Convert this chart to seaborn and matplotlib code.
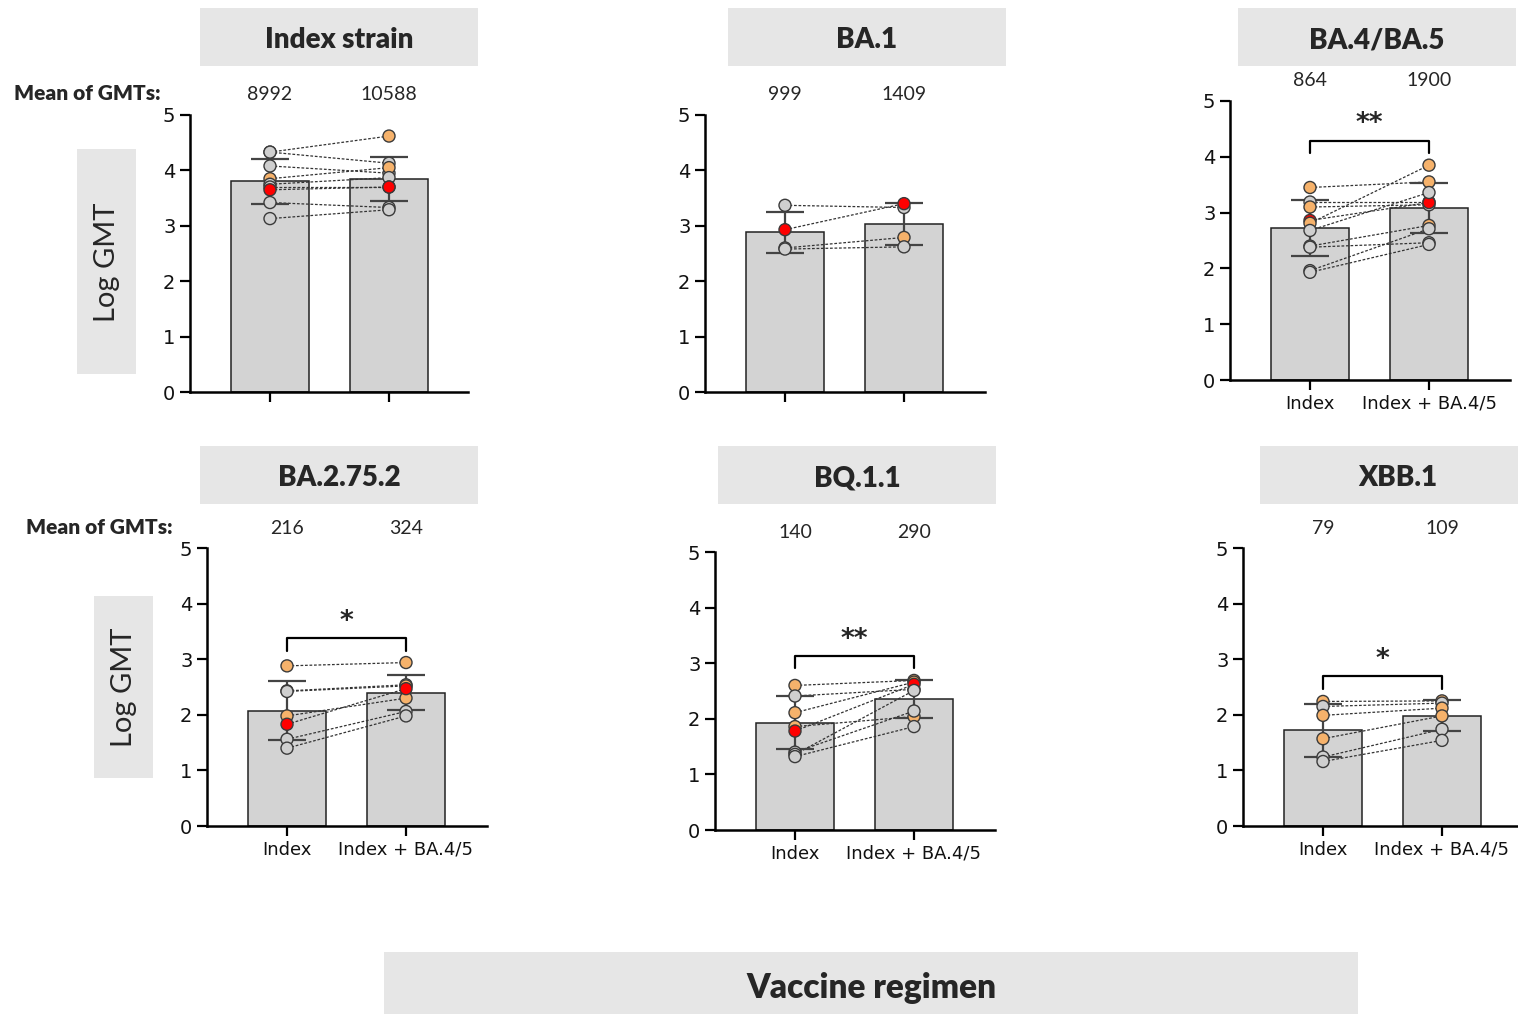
import matplotlib
matplotlib.use("Agg")
import matplotlib.pyplot as plt
import matplotlib.transforms as mtransforms
from matplotlib.patches import Rectangle
import seaborn as sns

# data
strains = ["Index strain", "BA.1", "BA.4/BA.5", "BA.2.75.2", "BQ.1.1", "XBB.1"]
regimens = ["Index", "Index + BA.4/5"]
gmt_means = [("8992", "10588"), ("999", "1409"), ("864", "1900"),
             ("216", "324"), ("140", "290"), ("79", "109")]
bar_means = [(3.80, 3.85), (2.88, 3.03), (2.72, 3.08), (2.07, 2.40), (1.93, 2.36), (1.72, 1.98)]
bar_sd = [(0.40, 0.40), (0.37, 0.38), (0.50, 0.45), (0.53, 0.32), (0.48, 0.34), (0.47, 0.28)]
sig_marks = ["", "", "**", "*", "**", "*"]
bracket_y = [None, None, (4.06, 4.29), (3.14, 3.38), (2.92, 3.13), (2.47, 2.69)]

pre_vals = [
    [4.33, 4.33, 4.08, 3.85, 3.75, 3.70, 3.65, 3.42, 3.13],
    [3.37, 2.93, 2.60, 2.58],
    [3.45, 3.19, 3.10, 2.86, 2.81, 2.68, 2.40, 2.38, 1.96, 1.93],
    [2.88, 2.43, 2.42, 1.98, 1.83, 1.56, 1.40],
    [2.60, 2.41, 2.11, 1.86, 1.78, 1.40, 1.36, 1.32],
    [2.24, 2.15, 1.99, 1.57, 1.24, 1.16],
]
post_vals = [
    [4.62, 4.13, 3.95, 4.05, 3.87, 3.70, 3.70, 3.33, 3.29],
    [3.33, 3.40, 2.79, 2.62],
    [3.55, 3.19, 3.14, 3.18, 3.85, 3.36, 2.77, 2.46, 2.71, 2.43],
    [2.94, 2.54, 2.52, 2.30, 2.47, 2.06, 1.98],
    [2.69, 2.53, 2.66, 2.04, 2.62, 2.14, 2.51, 1.86],
    [2.25, 2.21, 2.12, 1.98, 1.74, 1.54],
]
pre_cols = ["gggoggrgg", "grgg", "ogorogggg" + "g", "oogorgg", "ogoorggg", "ogoogg"]
post_cols = ["oggoggrgg", "grog", "oggrogoggg", "ogoorgg", "ogoorggg", "ogoogg"]

colmap = {"g": "#cfcfcf", "o": "#f6b26b", "r": "#ff0000"}

W, H = 1518, 1014
# panel boxes in pixels: left spine, right end, y of 0, y of 5
panel_px = [(190, 468, 392, 115), (705, 985, 392, 115), (1230, 1510, 380, 101),
            (207, 487, 826, 548), (715, 995, 830, 552), (1243, 1518, 826, 548)]
title_px = [(200, 478, 8, 66), (728, 1006, 8, 66), (1238, 1516, 8, 66),
            (200, 478, 446, 504), (718, 996, 446, 504), (1260, 1536, 446, 504)]
gmt_y = [94, 94, 81, 528, 532, 528]

sns.set_style("ticks")
plt.rcParams["font.family"] = ["DejaVu Sans"]

fig = plt.figure(figsize=(W / 100, H / 100), dpi=100)


def fx(x):
    return x / W


def fy(y):
    return 1 - y / H


def grey_box(x0, x1, y0, y1):
    fig.patches.append(Rectangle((fx(x0), fy(y1)), fx(x1) - fx(x0), fy(y0) - fy(y1),
                                 transform=fig.transFigure, facecolor="#e6e6e6",
                                 edgecolor="none", zorder=0))


unit = 119.0
for i in range(6):
    x0, x1, y0, y5 = panel_px[i]
    ax = fig.add_axes([fx(x0), fy(y0), fx(x1) - fx(x0), fy(y5) - fy(y0)])
    sns.barplot(x=regimens, y=list(bar_means[i]), ax=ax, color="#d3d3d3",
                width=0.66, edgecolor="#222222", linewidth=1.1, saturation=1)
    # paired lines
    for a, b in zip(pre_vals[i], post_vals[i]):
        ax.plot([0, 1], [a, b], color="#333333", lw=0.9, ls=(0, (2.2, 1.4)), zorder=3)
    ax.errorbar([0, 1], bar_means[i], yerr=bar_sd[i], fmt="none", ecolor="#444444",
                elinewidth=1.6, capsize=14, capthick=1.6, zorder=4)
    ax.scatter([0] * len(pre_vals[i]), pre_vals[i], s=75,
               c=[colmap[c] for c in pre_cols[i]], edgecolors="#3a3a3a", linewidths=1.0, zorder=5)
    ax.scatter([1] * len(post_vals[i]), post_vals[i], s=75,
               c=[colmap[c] for c in post_cols[i]], edgecolors="#3a3a3a", linewidths=1.0, zorder=5)

    if sig_marks[i]:
        lo, hi = bracket_y[i]
        ax.plot([0, 0, 1, 1], [lo, hi, hi, lo], color="black", lw=1.6, zorder=3)
        ax.text(0.5, hi + 0.06, sig_marks[i], ha="center", va="bottom",
                fontsize=19, fontweight="bold")

    ax.set_ylim(0, 5)
    ax.set_yticks([0, 1, 2, 3, 4, 5])
    ax.set_xlim(-(80 / unit), -(80 / unit) + (x1 - x0) / unit)
    ax.set_xlabel("")
    ax.set_ylabel("")
    sns.despine(ax=ax)
    for sp in ["left", "bottom"]:
        ax.spines[sp].set_linewidth(1.8)
        ax.spines[sp].set_color("black")
    ax.tick_params(axis="both", width=1.6, length=7, color="black", labelsize=14,
                   labelcolor="#111111")
    if i < 2:
        ax.set_xticklabels(["", ""])
    else:
        ax.tick_params(axis="x", labelsize=13)

    # mean GMT labels above each bar
    tr = mtransforms.blended_transform_factory(ax.transData, fig.transFigure)
    for j in range(2):
        ax.text(j, fy(gmt_y[i]), gmt_means[i][j], transform=tr, ha="center",
                va="center", fontsize=14, family="Lato")

    tx0, tx1, ty0, ty1 = title_px[i]
    grey_box(tx0, tx1, ty0, ty1)
    fig.text(fx((tx0 + tx1) / 2), fy((ty0 + ty1) / 2 + 3), strains[i], ha="center",
             va="center", fontsize=20, fontweight="heavy", family="Lato")

fig.text(fx(14), fy(94), "Mean of GMTs:", ha="left", va="center", fontsize=15,
         fontweight="heavy", family="Lato")
fig.text(fx(26), fy(528), "Mean of GMTs:", ha="left", va="center", fontsize=15,
         fontweight="heavy", family="Lato")

grey_box(77, 136, 149, 374)
fig.text(fx(107), fy(262), "Log GMT", rotation=90, ha="center", va="center",
         fontsize=21, family="Lato")
grey_box(94, 153, 596, 778)
fig.text(fx(124), fy(687), "Log GMT", rotation=90, ha="center", va="center",
         fontsize=21, family="Lato")

grey_box(384, 1358, 952, 1014)
fig.text(fx(871), fy(988), "Vaccine regimen", ha="center", va="center",
         fontsize=24, fontweight="heavy", family="Lato")

fig.savefig("out.png", dpi=100)
